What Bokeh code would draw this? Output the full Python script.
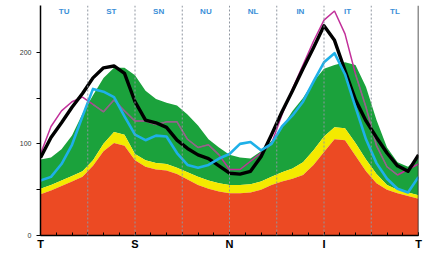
from bokeh.plotting import figure
from bokeh.models import FixedTicker, Span, ColumnDataSource
from bokeh.core.properties import value
from bokeh.embed import file_html
from bokeh.resources import INLINE

# TSNIT profile, angle in degrees (T=0, S=90, N=180, I=270, T=360)
angle = list(range(0, 361, 10))
red_top = [45, 49, 54, 59, 64, 76, 92, 101, 98, 82, 75, 72, 71, 67, 61, 55, 51, 48, 46,
           46, 47, 50, 55, 59, 62, 66, 77, 91, 105, 104, 87, 70, 57, 50, 46, 43, 40]
yellow_top = [51, 55, 60, 65, 70, 82, 100, 113, 110, 89, 82, 79, 78, 74, 69, 64, 60, 57, 55,
              55, 56, 59, 64, 69, 73, 80, 93, 108, 118, 117, 101, 83, 67, 55, 50, 47, 44]
green_top = [83, 85, 94, 109, 133, 153, 172, 183, 183, 175, 158, 149, 145, 142, 132, 120, 105, 96, 88,
             85, 84, 92, 103, 118, 136, 150, 168, 182, 186, 189, 186, 162, 126, 96, 80, 75, 85]
black_line = [85, 107, 123, 140, 155, 172, 183, 185, 177, 146, 126, 123, 118, 104, 95, 88, 84, 76, 68,
              67, 70, 86, 110, 135, 158, 182, 205, 229, 213, 180, 148, 125, 107, 90, 76, 70, 88]
cyan_line = [60, 64, 78, 99, 130, 160, 157, 151, 130, 110, 104, 109, 108, 90, 77, 74, 77, 84, 89,
             100, 102, 93, 100, 119, 131, 146, 168, 189, 199, 176, 140, 105, 79, 62, 51, 47, 64]
magenta_line = [89, 119, 136, 146, 151, 143, 135, 148, 136, 125, 125, 121, 124, 124, 105, 96, 99, 88, 72,
                72, 81, 90, 100, 132, 160, 186, 212, 235, 245, 220, 176, 140, 98, 75, 66, 72, 78]

sector_labels = ["TU", "ST", "SN", "NU", "NL", "IN", "IT", "TL"]
sector_centers = [22.5, 67.5, 112.5, 157.5, 202.5, 247.5, 292.5, 337.5]
sector_bounds = [45, 90, 135, 180, 225, 270, 315]
x_ticks = [0, 90, 180, 270, 360]
x_tick_labels = ["T", "S", "N", "I", "T"]
y_ticks = [0, 50, 100, 150, 200]
y_tick_labels = ["0", "", "100", "", "200"]

src = ColumnDataSource(dict(x=angle, zero=[0] * len(angle), red=red_top, yellow=yellow_top,
                            green=green_top, black=black_line, cyan=cyan_line, mag=magenta_line))

p = figure(width=428, height=255, x_range=(0, 360), y_range=(0, 251),
           output_backend="svg", toolbar_location=None,
           min_border_left=40, min_border_right=10, min_border_top=5, min_border_bottom=20)
p.grid.visible = False
p.outline_line_color = None

p.varea(x="x", y1="yellow", y2="green", source=src, fill_color="#1ba23c")
p.varea(x="x", y1="red", y2="yellow", source=src, fill_color="#f4ea00")
p.varea(x="x", y1="zero", y2="red", source=src, fill_color="#ec4a23")

for b in sector_bounds:
    p.add_layout(Span(location=b, dimension="height", line_color="#8f96a0",
                      line_dash="2 2", line_width=1))

p.line(x="x", y="mag", source=src, line_color="#c2309a", line_width=1.5)
for a, b in [(5, 18), (30, 35)]:
    seg = ColumnDataSource(dict(x=angle[a:b], y=magenta_line[a:b]))
    p.line(x="x", y="y", source=seg, line_color="#857585", line_width=1.1)
p.line(x="x", y="black", source=src, line_color="black", line_width=3.4, line_join="round")
p.line(x="x", y="cyan", source=src, line_color="#1eb0e8", line_width=2.6, line_join="round")

p.text(x=sector_centers, y=249, text=sector_labels, text_font=value("Liberation Sans"),
       text_font_size="8px", text_font_style="bold", text_color="#3a8fd8",
       text_align="center", text_baseline="top")

p.add_layout(Span(location=360, dimension="height", line_color="#222222", line_width=1.5))

xa = p.xaxis[0]
xa.ticker = FixedTicker(ticks=x_ticks, minor_ticks=list(range(0, 361, 15)))
xa.major_label_overrides = {t: l for t, l in zip(x_ticks, x_tick_labels)}
xa.major_label_text_font = "Liberation Sans"
xa.major_label_text_font_style = "bold"
xa.major_label_text_font_size = "11px"
xa.major_label_text_color = "black"
xa.major_label_standoff = 2
xa.major_tick_in = 3
xa.major_tick_out = 0
xa.minor_tick_in = 3
xa.minor_tick_out = 0
xa.axis_line_color = "black"
xa.axis_line_width = 1.5

ya = p.yaxis[0]
ya.ticker = FixedTicker(ticks=y_ticks)
ya.major_label_overrides = {t: l for t, l in zip(y_ticks, y_tick_labels)}
ya.major_label_text_font = "Liberation Sans"
ya.major_label_text_font_size = "7px"
ya.major_label_text_color = "#333333"
ya.major_label_standoff = 5
ya.major_tick_in = 0
ya.major_tick_out = 4
ya.minor_tick_line_color = None
ya.axis_line_color = "black"
ya.axis_line_width = 1.5

open("out.html", "w").write(file_html(p, INLINE))
